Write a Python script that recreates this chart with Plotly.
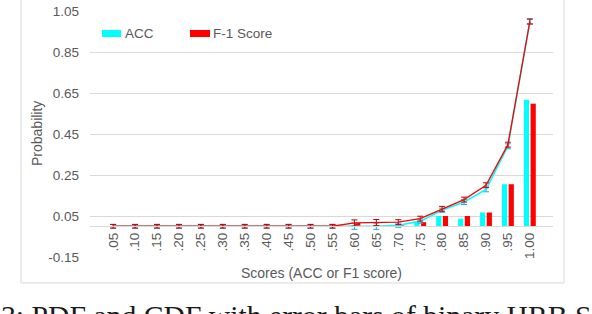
import plotly.graph_objects as go

categories = [".05", ".10", ".15", ".20", ".25", ".30", ".35", ".40", ".45", ".50",
              ".55", ".60", ".65", ".70", ".75", ".80", ".85", ".90", ".95", "1.00"]

acc_pdf = [0, 0, 0, 0, 0, 0, 0, 0, 0, 0, 0, 0.003, 0, 0.005, 0.02, 0.05, 0.037, 0.067, 0.205, 0.617]
f1_pdf = [0, 0, 0, 0, 0, 0, 0, 0, 0, 0, 0, 0.016, 0, 0.004, 0.02, 0.05, 0.05, 0.067, 0.205, 0.598]

acc_cdf = [0, 0, 0, 0, 0, 0, 0, 0, 0, 0, 0, 0, 0, 0.005, 0.025, 0.078, 0.118, 0.18, 0.39, 1.0]
f1_cdf = [0, 0, 0, 0, 0, 0, 0, 0, 0, 0, 0, 0.016, 0.018, 0.02, 0.037, 0.085, 0.13, 0.2, 0.398, 0.998]

acc_err = [0.009, 0.009, 0.009, 0.009, 0.009, 0.009, 0.009, 0.009, 0.009, 0.009,
           0.009, 0.015, 0.015, 0.01, 0.01, 0.01, 0.012, 0.012, 0.012, 0.012]
f1_err = [0.009, 0.009, 0.009, 0.009, 0.009, 0.009, 0.009, 0.009, 0.009, 0.009,
          0.009, 0.015, 0.015, 0.012, 0.012, 0.012, 0.012, 0.012, 0.012, 0.012]

y_ticks = [-0.15, 0.05, 0.25, 0.45, 0.65, 0.85, 1.05]

CYAN = "#00FFFF"
RED = "#FF0000"
GRID = "#D9D9D9"
TXT = "#595959"
FONT = "Liberation Sans"

W, H = 592, 314
L, R, T, B = 90, 39, 11, 57
PW, PH = W - L - R, H - T - B


def px(x):
    return (x - L) / PW


def py(y):
    return (H - B - y) / PH


fig = go.Figure()
fig.add_trace(go.Bar(x=categories, y=acc_pdf, marker=dict(color=CYAN, line=dict(width=0)),
                     name="ACC", showlegend=False))
fig.add_trace(go.Bar(x=categories, y=f1_pdf, marker=dict(color=RED, line=dict(width=0)),
                     name="F-1 Score", showlegend=False))
fig.add_trace(go.Scatter(x=categories, y=acc_cdf, mode="lines",
                         line=dict(color=CYAN, width=1.6),
                         error_y=dict(type="data", array=acc_err, color="#1CA9E6",
                                      thickness=1, width=3),
                         showlegend=False))
fig.add_trace(go.Scatter(x=categories, y=f1_cdf, mode="lines",
                         line=dict(color=RED, width=1.3),
                         error_y=dict(type="data", array=f1_err, color="#C00000",
                                      thickness=1, width=3),
                         showlegend=False))

zero_pos = (0 - (-0.15)) / 1.2

fig.update_layout(
    width=W, height=H,
    margin=dict(l=L, r=R, t=T, b=B, autoexpand=False),
    paper_bgcolor="white", plot_bgcolor="white",
    barmode="group", bargap=0.395, bargroupgap=0.21,
    font=dict(family=FONT, size=13.5, color=TXT),
    showlegend=False,
    hovermode=False,
    xaxis=dict(type="category", anchor="free", position=zero_pos, automargin=False,
               showline=True, linecolor=GRID, linewidth=1,
               showgrid=False, ticks="", tickangle=-90,
               tickfont=dict(family=FONT, size=13.5, color=TXT)),
    yaxis=dict(range=[-0.15, 1.05], tickvals=y_ticks, ticktext=[f"{v:.2f}" for v in y_ticks],
               automargin=False,
               showgrid=True, gridcolor=GRID, gridwidth=1, zeroline=False,
               showline=False, ticks="", ticklabelstandoff=10,
               tickfont=dict(family=FONT, size=13.5, color=TXT)),
)

shapes = [
    # chart frame
    dict(type="rect", xref="paper", yref="paper", x0=px(21), x1=px(564), y0=py(283), y1=py(-5),
         line=dict(color=GRID, width=1), fillcolor="rgba(0,0,0,0)", layer="below"),
    # legend swatches
    dict(type="rect", xref="paper", yref="paper", x0=px(102), x1=px(121), y0=py(37), y1=py(30),
         line=dict(width=0), fillcolor=CYAN),
    dict(type="rect", xref="paper", yref="paper", x0=px(190), x1=px(210), y0=py(37), y1=py(30),
         line=dict(width=0), fillcolor=RED),
]
fig.update_layout(shapes=shapes)

annotations = [
    dict(text="ACC", xref="paper", yref="paper", x=px(123), y=py(33.5), xanchor="left",
         yanchor="middle", showarrow=False, font=dict(family=FONT, size=13.5, color=TXT)),
    dict(text="F-1 Score", xref="paper", yref="paper", x=px(211), y=py(33.5), xanchor="left",
         yanchor="middle", showarrow=False, font=dict(family=FONT, size=13.5, color=TXT)),
    dict(text="Probability", xref="paper", yref="paper", x=px(37), y=py(134), xanchor="center",
         yanchor="middle", textangle=-90, showarrow=False,
         font=dict(family=FONT, size=14, color=TXT)),
    dict(text="Scores (ACC or F1 score)", xref="paper", yref="paper", x=px(321), y=py(272.5),
         xanchor="center", yanchor="middle", showarrow=False,
         font=dict(family=FONT, size=14, color=TXT)),
    dict(text="3: PDF and CDF with error bars of binary HRB S", xref="paper", yref="paper",
         x=px(-1), y=py(316), xanchor="left", yanchor="middle", showarrow=False,
         font=dict(family="Liberation Serif", size=29.7, color="#1a1a1a")),
]
fig.update_layout(annotations=annotations)

fig.write_html("out.html",
               config={"displayModeBar": False, "staticPlot": True},
               post_script="document.body.style.margin='0';document.body.style.overflow='hidden';")
